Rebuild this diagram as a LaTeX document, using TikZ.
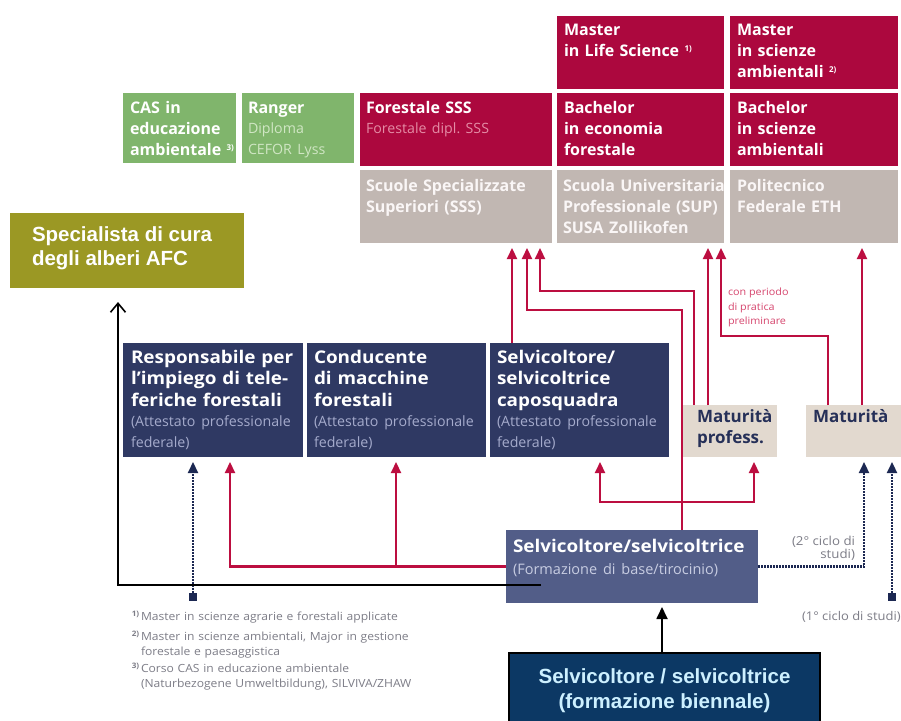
\documentclass[tikz,border=0pt]{standalone}
\usepackage{fontspec}
\setmainfont{Open Sans}
\newfontfamily\wideos[FakeStretch=1.08]{Open Sans}
\newfontfamily\arialf{Liberation Sans}
\usetikzlibrary{arrows.meta}
\frenchspacing
\definecolor{crim}{RGB}{172,8,62}
\definecolor{crimsub}{RGB}{228,140,165}
\definecolor{grn}{RGB}{128,181,108}
\definecolor{grnsub}{RGB}{208,230,196}
\definecolor{gry}{RGB}{193,183,178}
\definecolor{grytxt}{RGB}{250,246,246}
\definecolor{nav}{RGB}{47,57,99}
\definecolor{navsub}{RGB}{165,171,204}
\definecolor{slate}{RGB}{82,93,136}
\definecolor{slatesub}{RGB}{200,205,226}
\definecolor{beige}{RGB}{226,217,207}
\definecolor{beigetxt}{RGB}{38,48,88}
\definecolor{olive}{RGB}{155,152,36}
\definecolor{bienfill}{RGB}{12,56,100}
\definecolor{bientxt}{RGB}{205,240,255}
\definecolor{redc}{RGB}{188,14,64}
\definecolor{pinktxt}{RGB}{214,70,110}
\definecolor{navl}{RGB}{28,40,82}
\definecolor{fntxt}{RGB}{125,125,135}
\newcommand\fnm[1]{{\fontsize{8}{8}\selectfont\raisebox{5pt}{#1)}}}
\newcommand\fnk[1]{\llap{{\fontsize{7.5}{7.5}\selectfont\bfseries\raisebox{3.5pt}{#1)}}\,}}
\newcommand\subt[2]{{\rmfamily\mdseries\fontsize{14.2}{20.5}\selectfont\leavevmode\color{#1}#2\par}}
\begin{document}
\begin{tikzpicture}[x=1pt,y=-1pt,
  pbox/.style={inner sep=0pt,outer sep=0pt,anchor=north west,draw=none},
  ptxt/.style={inner sep=0pt,outer sep=0pt,anchor=north west,align=left,
    font=\fontsize{16}{21}\selectfont\bfseries,execute at begin node={\frenchspacing\rule{0pt}{14pt}}},
  navtxt/.style={ptxt,font=\wideos\fontsize{17.5}{21.5}\selectfont\bfseries},
  smalltxt/.style={inner sep=0pt,outer sep=0pt,
    execute at begin node={\rule{0pt}{9pt}}},
  fn/.style={inner sep=0pt,outer sep=0pt,anchor=north west,align=left,text width=340pt,
    text=fntxt,font=\wideos\fontsize{11.2}{15}\selectfont,execute at begin node={\frenchspacing\rule{0pt}{10pt}}},
  arl/.style={inner sep=0pt,outer sep=0pt,align=left,text=white,
    font=\arialf\bfseries\fontsize{20.5}{24}\selectfont,execute at begin node={\rule{0pt}{16pt}}},
  rl/.style={draw=redc,line width=2.2pt},
  rar/.style={rl,-{Triangle[width=10pt,length=11pt]},shorten >=5pt},
  rdbl/.style={rl,{Triangle[width=10pt,length=11pt]}-{Triangle[width=10pt,length=11pt]},shorten >=5pt,shorten <=5pt},
  nar/.style={draw=navl,line width=2.2pt,dash pattern=on 1.6pt off 1.4pt,-{Triangle[width=10pt,length=11pt]},shorten >=5pt},
  sqm/.style={fill=navl,minimum size=8pt,inner sep=0pt},
  blkl/.style={draw=black,line width=1.8pt}]
\useasboundingbox (0,0) rectangle (901,720);
\fill[white] (0,0) rectangle (901,720);

% lanes
\coordinate (L512) at (512,0); \coordinate (L527) at (527,0); \coordinate (L540) at (540,0);
\coordinate (L682) at (682,0); \coordinate (L694) at (694,0); \coordinate (L708) at (708,0);
\coordinate (L721) at (721,0); \coordinate (L828) at (828,0); \coordinate (L862) at (862,0);
\coordinate (L600) at (600,0); \coordinate (L754) at (754,0); \coordinate (L230) at (230,0);
\coordinate (L396) at (396,0); \coordinate (L864) at (864,0); \coordinate (L662) at (662,0);
\coordinate (H310) at (0,310); \coordinate (H291) at (0,291); \coordinate (H336) at (0,336);
\coordinate (H502) at (0,502);

% top: masters
\node[pbox,fill=crim,minimum width=167pt,minimum height=73pt] (mls) at (557,16) {};
\node[ptxt,text=white,text width=160pt] (mlst) at (564,21) {Master\\in Life Science \fnm{1}};
\node[pbox,fill=crim,minimum width=168pt,minimum height=73pt] (msci) at (730,16) {};
\node[ptxt,text=white,text width=160pt] (mscit) at (737,21) {Master\\in scienze\\ambientali \fnm{2}};

% second row
\node[pbox,fill=grn,minimum width=113pt,minimum height=70pt] (cas) at (123,93) {};
\node[ptxt,text=white,text width=110pt] (cast) at (130,99) {CAS in\\educazione\\ambientale \fnm{3}};
\node[pbox,fill=grn,minimum width=112pt,minimum height=70pt] (rng) at (242,93) {};
\node[ptxt,text=white,text width=108pt] (rngt) at (248,99) {Ranger\par\subt{grnsub}{Diploma\\CEFOR Lyss}};
\node[pbox,fill=crim,minimum width=192pt,minimum height=73pt] (fss) at (360,93) {};
\node[ptxt,text=white,text width=185pt] (fsst) at (366,99) {Forestale SSS\par\subt{crimsub}{Forestale dipl. SSS}};
\node[pbox,fill=crim,minimum width=167pt,minimum height=73pt] (bec) at (557,93) {};
\node[ptxt,text=white,text width=160pt] (bect) at (564,99) {Bachelor\\in economia\\forestale};
\node[pbox,fill=crim,minimum width=168pt,minimum height=73pt] (bsci) at (730,93) {};
\node[ptxt,text=white,text width=160pt] (bscit) at (737,99) {Bachelor\\in scienze\\ambientali};

% schools
\node[pbox,fill=gry,minimum width=192pt,minimum height=73pt] (sss) at (360,170) {};
\node[ptxt,text=grytxt,text width=185pt] (ssst) at (366,177) {Scuole Specializzate\\Superiori (SSS)};
\node[pbox,fill=gry,minimum width=167pt,minimum height=73pt] (sup) at (557,170) {};
\node[ptxt,text=grytxt,text width=165pt] (supt) at (563,177) {Scuola Universitaria\\Professionale (SUP)\\SUSA Zollikofen};
\node[pbox,fill=gry,minimum width=168pt,minimum height=73pt] (eth) at (730,170) {};
\node[ptxt,text=grytxt,text width=160pt] (etht) at (737,177) {Politecnico\\Federale ETH};

% olive
\node[pbox,fill=olive,minimum width=234pt,minimum height=75pt] (afc) at (10,213) {};
\node[arl,anchor=north west] (afct) at (32,227) {Specialista di cura\\degli alberi AFC};

% navy row
\node[pbox,fill=nav,minimum width=180pt,minimum height=114pt] (resp) at (123,343) {};
\node[navtxt,text=white,text width=178pt] (respt) at (131,349) {Responsabile per\\l’impiego di tele-\\feriche forestali\par\subt{navsub}{(Attestato professionale\\federale)}};
\node[pbox,fill=nav,minimum width=179pt,minimum height=114pt] (cond) at (307,343) {};
\node[navtxt,text=white,text width=177pt] (condt) at (314,349) {Conducente\\di macchine\\forestali\par\subt{navsub}{(Attestato professionale\\federale)}};
\node[pbox,fill=nav,minimum width=179pt,minimum height=114pt] (capo) at (490,343) {};
\node[navtxt,text=white,text width=177pt] (capot) at (497,349) {Selvicoltore/\\selvicoltrice\\caposquadra\par\subt{navsub}{(Attestato professionale\\federale)}};

% maturita
\node[pbox,fill=beige,minimum width=94pt,minimum height=52pt] (matp) at (683,405) {};
\node[ptxt,text=beigetxt,text width=90pt,font=\fontsize{17}{21}\selectfont\bfseries] (matpt) at (697,408) {Maturità\\profess.};
\node[pbox,fill=beige,minimum width=95pt,minimum height=52pt] (mat) at (806,405) {};
\node[ptxt,text=beigetxt,text width=90pt,font=\fontsize{17}{21}\selectfont\bfseries] (matt) at (813,408) {Maturità};

% base
\node[pbox,fill=slate,minimum width=252pt,minimum height=73pt] (base) at (506,530) {};
\node[ptxt,text=white,text width=248pt,font=\wideos\fontsize{17.5}{22}\selectfont\bfseries] (baset) at (513,538) {Selvicoltore/selvicoltrice\par{\rmfamily\mdseries\fontsize{14.5}{22}\selectfont\leavevmode\color{slatesub}(Formazione di base/tirocinio)\par}};

% biennale
\node[pbox,fill=bienfill,draw=black,line width=2pt,minimum width=311pt,minimum height=70pt] (bien) at (509,653) {};
\node[arl,anchor=north,align=center,text=bientxt,font=\arialf\bfseries\fontsize{20.5}{25}\selectfont] (bient) at (664.5,669) {Selvicoltore / selvicoltrice\\(formazione biennale)};

% small texts
\node[smalltxt,anchor=north west,align=left,text=pinktxt,font=\wideos\fontsize{10}{14.5}\selectfont] (cpt) at (728,288) {con periodo\\di pratica\\preliminare};
\node[smalltxt,anchor=north east,align=right,text=fntxt,font=\wideos\fontsize{12.3}{13}\selectfont] (c2) at (855,536) {(2° ciclo di\\studi)};
\node[smalltxt,anchor=north west,align=left,text=fntxt,font=\wideos\fontsize{12}{14}\selectfont] (c1) at (802,611) {(1° ciclo di studi)};

% footnotes
\node[fn] (fn1) at (141,610) {\fnk{1}Master in scienze agrarie e forestali applicate};
\node[fn] (fn2) at (141,630) {\fnk{2}Master in scienze ambientali, Major in gestione\\forestale e paesaggistica};
\node[fn] (fn3) at (141,662) {\fnk{3}Corso CAS in educazione ambientale\\(Naturbezogene Umweltbildung), SILVIVA/ZHAW};

% red connectors
\draw[rar] (capo.north -| L512) -- (sss.south -| L512);
\draw[rar] (base.north -| L682) -- (L682 |- H310) -- (L527 |- H310) -- (sss.south -| L527);
\draw[rdbl] (capo.south -| L600) -- (L600 |- H502) -- (L754 |- H502) -- (matp.south -| L754);
\draw[rar] (matp.north -| L694) -- (L694 |- H291) -- (L540 |- H291) -- (sss.south -| L540);
\draw[rar] (matp.north -| L708) -- (sup.south -| L708);
\draw[rar] (mat.north -| L828) -- (L828 |- H336) -- (L721 |- H336) -- (sup.south -| L721);
\draw[rar] (mat.north -| L862) -- (eth.south -| L862);
\draw[rar] (base.west) -- (L230 |- base.west) -- (resp.south -| L230);
\draw[rar] (L396 |- base.west) -- (cond.south -| L396);

% navy dotted
\node[sqm] (sq1) at (193,597) {};
\draw[nar] (sq1) -- (resp.south -| sq1);
\draw[nar] (base.east) -- (L864 |- base.east) -- (mat.south -| L864);
\node[sqm] (sq2) at (892,597) {};
\draw[nar] (sq2) -- (mat.south -| sq2);

% black
\coordinate (bk) at (541,585);
\coordinate (afcin) at (118,302);
\draw[blkl,-{Straight Barb[width=15pt,length=9pt,line width=1.6pt]}] (bk) -| (afcin);
\draw[blkl,-{Triangle[width=11pt,length=12pt]},shorten >=4pt] (bien.north -| L662) -- (base.south -| L662);
\end{tikzpicture}
\end{document}
